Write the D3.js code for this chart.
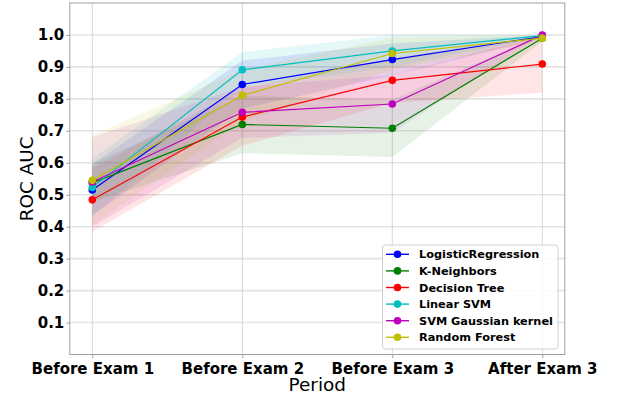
<!DOCTYPE html>
<html>
<head>
<meta charset="utf-8">
<script src="https://cdn.jsdelivr.net/npm/d3@7"></script>
<style>
  html, body { margin: 0; padding: 0; background: #fff; }
  svg { display: block; font-family: "DejaVu Sans", sans-serif; }
</style>
</head>
<body>
<svg id="chart" width="617" height="398"></svg>
<script>
// Periods on the x axis
const periods = ["Before Exam 1", "Before Exam 2", "Before Exam 3", "After Exam 3"];
const yTicks = [0.1, 0.2, 0.3, 0.4, 0.5, 0.6, 0.7, 0.8, 0.9, 1.0];

// Model names and colours
const models = ["LogisticRegression", "K-Neighbors", "Decision Tree", "Linear SVM", "SVM Gaussian kernel", "Random Forest"];
const colors = ["#0000ff", "#008000", "#ff0000", "#00bfbf", "#bf00bf", "#bfbf00"];

// Mean ROC AUC per period, one array per model
const logRegMean = [0.515, 0.845, 0.923, 0.995];
const knnMean    = [0.537, 0.720, 0.708, 0.990];
const treeMean   = [0.484, 0.743, 0.858, 0.909];
const linSvmMean = [0.523, 0.891, 0.950, 0.998];
const rbfSvmMean = [0.540, 0.758, 0.784, 1.000];
const forestMean = [0.545, 0.811, 0.942, 0.990];

// Standard deviation per period (shaded band = mean ± std)
const logRegStd = [0.080, 0.075, 0.050, 0.005];
const knnStd    = [0.060, 0.090, 0.090, 0.010];
const treeStd   = [0.100, 0.090, 0.070, 0.090];
const linSvmStd = [0.090, 0.055, 0.050, 0.003];
const rbfSvmStd = [0.140, 0.080, 0.090, 0.000];
const forestStd = [0.140, 0.080, 0.050, 0.010];

const means = [logRegMean, knnMean, treeMean, linSvmMean, rbfSvmMean, forestMean];
const stds  = [logRegStd, knnStd, treeStd, linSvmStd, rbfSvmStd, forestStd];

const series = models.map((name, i) => ({
  name, color: colors[i],
  points: means[i].map((m, j) => ({ i: j, mean: m, lo: m - stds[i][j], hi: Math.min(m + stds[i][j], 1.0) }))
}));

const svg = d3.select("#chart");
const L = 69.8, R = 564.8, T = 3, B = 354.5;

const x = d3.scaleLinear().domain([-0.15, 3.15]).range([L, R]);
const y = d3.scaleLinear().domain([0, 1.1]).range([B, T]);

// Grid
svg.append("g").selectAll("line").data(yTicks).join("line")
  .attr("x1", L).attr("x2", R)
  .attr("y1", d => y(d)).attr("y2", d => y(d))
  .attr("stroke", "#e3e3e3").attr("stroke-width", 1.6);
svg.append("g").selectAll("line").data(periods).join("line")
  .attr("x1", (d, i) => x(i)).attr("x2", (d, i) => x(i))
  .attr("y1", T).attr("y2", B)
  .attr("stroke", "#d2d2d2").attr("stroke-width", 0.9);

// Bands
const area = d3.area().x(d => x(d.i)).y0(d => y(d.lo)).y1(d => y(d.hi));
svg.append("g").selectAll("path").data(series).join("path")
  .attr("d", d => area(d.points))
  .attr("fill", d => d.color).attr("fill-opacity", 0.1).attr("stroke", "none");

// Lines
const line = d3.line().x(d => x(d.i)).y(d => y(d.mean));
svg.append("g").selectAll("path").data(series).join("path")
  .attr("d", d => line(d.points))
  .attr("fill", "none").attr("stroke", d => d.color).attr("stroke-width", 1.2);

// Markers
svg.append("g").selectAll("g").data(series).join("g")
  .attr("fill", d => d.color)
  .selectAll("circle").data(d => d.points).join("circle")
  .attr("cx", d => x(d.i)).attr("cy", d => y(d.mean)).attr("r", 3.8);

// Axes frame
svg.append("rect").attr("x", L).attr("y", T).attr("width", R - L).attr("height", B - T)
  .attr("fill", "none").attr("stroke", "#a0a0a0").attr("stroke-width", 1);

// X axis
const xAxis = d3.axisBottom(x).tickValues([0, 1, 2, 3]).tickFormat(i => periods[i]).tickSize(3.5).tickPadding(5);
const gx = svg.append("g").attr("transform", `translate(0,${B})`).call(xAxis);
gx.select(".domain").remove();
gx.selectAll("line").attr("stroke", "#a0a0a0");
gx.selectAll("text").attr("font-size", 15).attr("font-weight", "bold").attr("fill", "#000")
  .attr("font-family", "DejaVu Sans").attr("dy", "0.76em");

// Y axis
const yAxis = d3.axisLeft(y).tickValues(yTicks).tickFormat(d3.format(".1f")).tickSize(3.5).tickPadding(2);
const gy = svg.append("g").attr("transform", `translate(${L},0)`).call(yAxis);
gy.select(".domain").remove();
gy.selectAll("line").attr("stroke", "#a0a0a0");
gy.selectAll("text").attr("font-size", 15).attr("font-weight", "bold").attr("fill", "#000")
  .attr("font-family", "DejaVu Sans");

// Axis titles
svg.append("text").attr("x", (L + R) / 2).attr("y", 391).attr("text-anchor", "middle")
  .attr("font-size", 18.4).attr("fill", "#000").text("Period");
svg.append("text").attr("transform", `translate(33,${(T + B) / 2}) rotate(-90)`).attr("text-anchor", "middle")
  .attr("font-size", 18.4).attr("fill", "#000").text("ROC AUC");

// Legend
const lg = svg.append("g");
lg.append("rect").attr("x", 382.5).attr("y", 245).attr("width", 175.5).attr("height", 104)
  .attr("rx", 3).attr("fill", "#fff").attr("fill-opacity", 0.85)
  .attr("stroke", "#d0d0d0").attr("stroke-width", 1);
const rows = lg.selectAll("g").data(series).join("g")
  .attr("transform", (d, i) => `translate(0,${254.3 + i * 16.6})`);
rows.append("line").attr("x1", 386).attr("x2", 409).attr("y1", 0).attr("y2", 0)
  .attr("stroke", d => d.color).attr("stroke-width", 1.4);
rows.append("circle").attr("cx", 397.5).attr("cy", 0).attr("r", 3.8).attr("fill", d => d.color);
rows.append("text").attr("x", 419).attr("y", 0).attr("dy", "0.36em")
  .attr("font-size", 11.3).attr("font-weight", "bold").attr("fill", "#000").text(d => d.name);
</script>
</body>
</html>
